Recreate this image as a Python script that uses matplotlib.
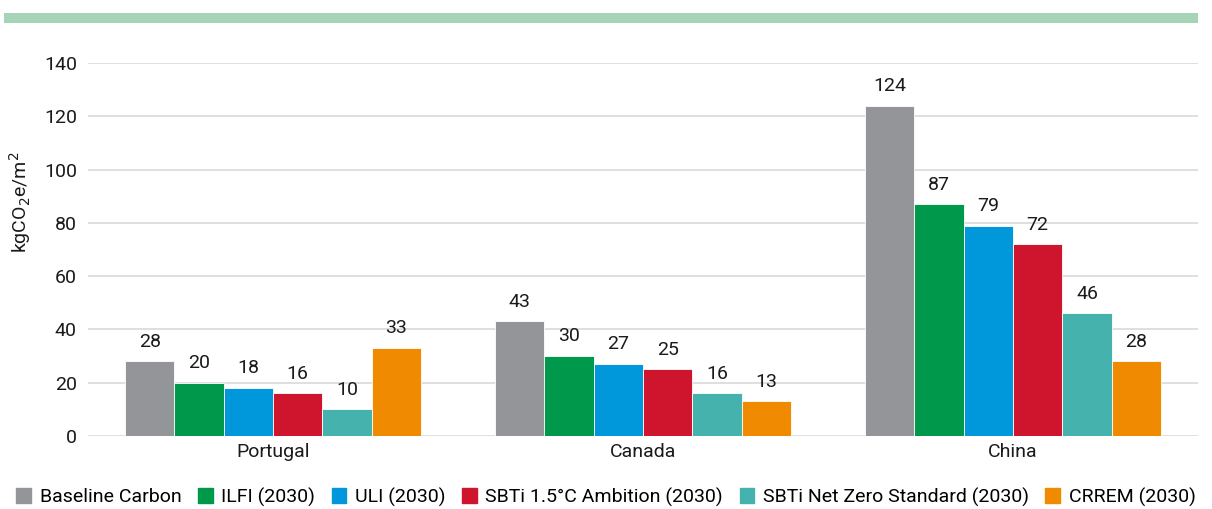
"""plot.py -- grouped bars: baseline carbon vs 2030 pathway targets per country."""
import matplotlib
matplotlib.use("Agg")
import matplotlib.pyplot as plt
import numpy as np
from matplotlib.patches import Rectangle

countries = ["Portugal", "Canada", "China"]
series = ["Baseline Carbon", "ILFI (2030)", "ULI (2030)", "SBTi 1.5°C Ambition (2030)",
          "SBTi Net Zero Standard (2030)", "CRREM (2030)"]
baseline = [28, 43, 124]
ilfi = [20, 30, 87]
uli = [18, 27, 79]
sbti_15 = [16, 25, 72]
sbti_nz = [10, 16, 46]
crrem = [33, 13, 28]
colors = ["#939598", "#00984A", "#0098DA", "#CF152D", "#45B2AE", "#F08A00"]
yticks = [0, 20, 40, 60, 80, 100, 120, 140]

plt.rcParams["font.family"] = ["Roboto", "DejaVu Sans"]
FS = 14

fig = plt.figure(figsize=(12.12, 5.09), dpi=100)
ax = fig.add_axes([88 / 1212, 1 - 436 / 509, 1110 / 1212, (436 - 63) / 509])

# green banner across the top
fig.patches.append(Rectangle((4 / 1212, 1 - 23 / 509), 1194 / 1212, 10 / 509,
                             transform=fig.transFigure, color="#A6D4B7", lw=0))

x = np.arange(len(countries))
width = 0.8 / len(series)
for i, (vals, col) in enumerate(zip([baseline, ilfi, uli, sbti_15, sbti_nz, crrem], colors)):
    pos = x - 0.4 + width * (i + 0.5)
    bars = ax.bar(pos, vals, width, color=col, edgecolor="white", linewidth=0.6, zorder=3)
    for b, v in zip(bars, vals):
        ax.text(b.get_x() + b.get_width() / 2, v + 4, str(v), ha="center", va="bottom",
                fontsize=FS, color="#1a1a1a")

ax.set_xlim(-0.5, 2.5)
ax.set_ylim(0, 140)
ax.set_yticks(yticks)
ax.set_xticks(x)
ax.set_xticklabels(countries)
ax.tick_params(axis="both", length=0, labelsize=FS, colors="#1a1a1a")
ax.tick_params(axis="y", pad=8)
ax.tick_params(axis="x", pad=5)
ax.grid(axis="y", color="#D9D9D9", lw=1.2, zorder=0)
for s in ax.spines.values():
    s.set_visible(False)

fig.text(20 / 1212, 1 - 202 / 509, "kgCO$_2$e/m$^2$", rotation=90, ha="center", va="center",
         fontsize=FS, color="#1a1a1a")

handles = [Rectangle((0, 0), 1, 1, color=c) for c in colors]
fig.legend(handles, series, loc="center", bbox_to_anchor=(606 / 1212, 1 - 497 / 509), ncol=6,
           frameon=False, fontsize=FS, handlelength=0.75, handleheight=0.75,
           handletextpad=0.45, columnspacing=0.85, borderaxespad=0)

fig.savefig("out.png", dpi=100)
